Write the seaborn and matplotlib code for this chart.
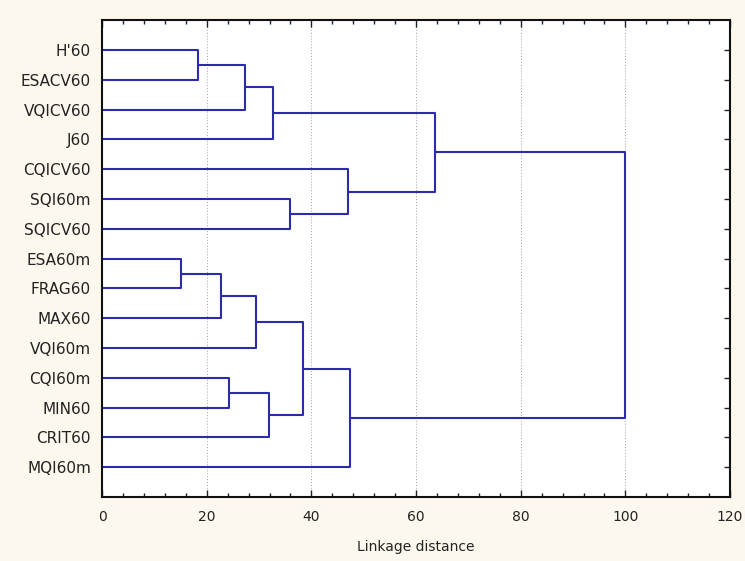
import matplotlib
matplotlib.use("Agg")
import matplotlib.pyplot as plt
from matplotlib.ticker import MultipleLocator
import seaborn as sns
import pandas as pd

# ---- data ----
leaves = ["H'60", "ESACV60", "VQICV60", "J60", "CQICV60", "SQI60m", "SQICV60",
          "ESA60m", "FRAG60", "MAX60", "VQI60m", "CQI60m", "MIN60", "CRIT60", "MQI60m"]
# merges: (left child, right child, linkage distance); new cluster ids start at len(leaves)
merge_a = ["H'60", 15, 16, "SQI60m", "CQICV60", 17, "ESA60m", 21, 22, "CQI60m", 24, 23, 26, 20]
merge_b = ["ESACV60", "VQICV60", "J60", "SQICV60", 18, 19, "FRAG60", "MAX60", "VQI60m", "MIN60", "CRIT60", 25, "MQI60m", 27]
merge_h = [18.3, 27.3, 32.6, 35.9, 46.9, 63.7, 15.1, 22.7, 29.4, 24.2, 31.9, 38.3, 47.4, 100.0]

# ---- build dendrogram segments ----
pos = {name: i + 1 for i, name in enumerate(leaves)}
height = {name: 0.0 for name in leaves}
rows = []
for k, (a, b, h) in enumerate(zip(merge_a, merge_b, merge_h)):
    cid = len(leaves) + k
    ya, yb = pos[a], pos[b]
    xa, xb = height[a], height[b]
    seg = [(xa, ya), (h, ya), (h, yb), (xb, yb)]
    for j, (x, y) in enumerate(seg):
        rows.append({"seg": k, "order": j, "x": x, "y": y})
    pos[cid] = (ya + yb) / 2
    height[cid] = h
df = pd.DataFrame(rows)

# ---- figure ----
sns.set_theme(style="white")
plt.rcParams["font.family"] = ["DejaVu Sans"]

fig = plt.figure(figsize=(7.45, 5.61), dpi=100, facecolor="#fcf8ed")
ax = fig.add_axes([0.137, 0.114, 0.843, 0.850])
ax.set_facecolor("white")

sns.lineplot(data=df, x="x", y="y", units="seg", estimator=None, sort=False,
             color="#2c2ca8", linewidth=1.5, ax=ax)

ax.set_xlim(0, 120)
ax.set_ylim(len(leaves) + 1, 0)
ax.xaxis.set_major_locator(MultipleLocator(20))
ax.xaxis.set_minor_locator(MultipleLocator(4))
ax.set_yticks(range(1, len(leaves) + 1))
ax.set_yticklabels(leaves)

for gx in [20, 40, 60, 80, 100]:
    ax.axvline(gx, color="#a0a0a0", linestyle=(0, (1, 2)), linewidth=0.7, zorder=0)

ax.tick_params(axis="x", which="both", direction="in", top=True, bottom=True,
               colors="#222222", labelsize=10, pad=9)
ax.tick_params(axis="x", which="major", length=5, width=1)
ax.tick_params(axis="x", which="minor", length=3, width=1)
ax.tick_params(axis="y", which="major", direction="in", left=False, right=True,
               length=4, width=1, labelleft=True, colors="#222222", labelsize=11, pad=8)

for s in ax.spines.values():
    s.set_visible(True)
    s.set_color("#111111")
    s.set_linewidth(1.5)

ax.set_xlabel("Linkage distance", fontsize=10, color="#222222", labelpad=12)
ax.set_ylabel("")

fig.savefig("out.png", dpi=100, facecolor=fig.get_facecolor())
